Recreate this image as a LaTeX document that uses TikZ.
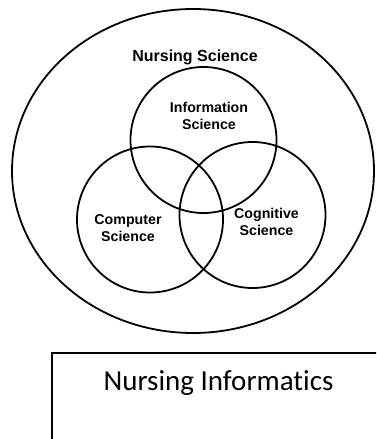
\documentclass[tikz,border=0pt]{standalone}
\usepackage{fontspec}
\setmainfont[Ligatures=NoCommon]{Carlito}
\setsansfont{Liberation Sans}
\usetikzlibrary{positioning, shapes.geometric}

\begin{document}
\begin{tikzpicture}[x=1pt, y=-1pt, set/.style={draw, circle, line width=1.8pt, minimum size=146pt, inner sep=0pt}, lbl/.style={font=\sffamily\bfseries\fontsize{14.2}{17}\selectfont, align=center, inner sep=0pt}]
  \useasboundingbox (0,0) rectangle (376,439);
  \clip (0,0) rectangle (376,439);
  \node (ns) [draw, ellipse, line width=1.8pt, minimum width=362pt, minimum height=324pt, inner sep=0pt] at (193,171) {};
  \node (info) [set] at (203.5,140) {};
  \node (comp) [set] at (150,219.5) {};
  \node (cogn) [set] at (252.5,215) {};
  \node (nslbl) [lbl, font=\sffamily\bfseries\fontsize{16}{18}\selectfont] at (195,57) {Nursing Science};
  \node (infolbl) [lbl] at (209,116) {Information\\Science};
  \node (complbl) [lbl] at (128,228) {Computer\\Science};
  \node (cognlbl) [lbl] at (266.5,222) {Cognitive\\Science};
  \node (box) [draw, line width=1.5pt, anchor=north west, minimum width=360pt, minimum height=120pt] at (51,352) {};
  \node (nilbl) [font=\fontsize{29}{32}\selectfont, inner sep=0pt] at (218.5,383) {Nursing Informatics};
\end{tikzpicture}
\end{document}
